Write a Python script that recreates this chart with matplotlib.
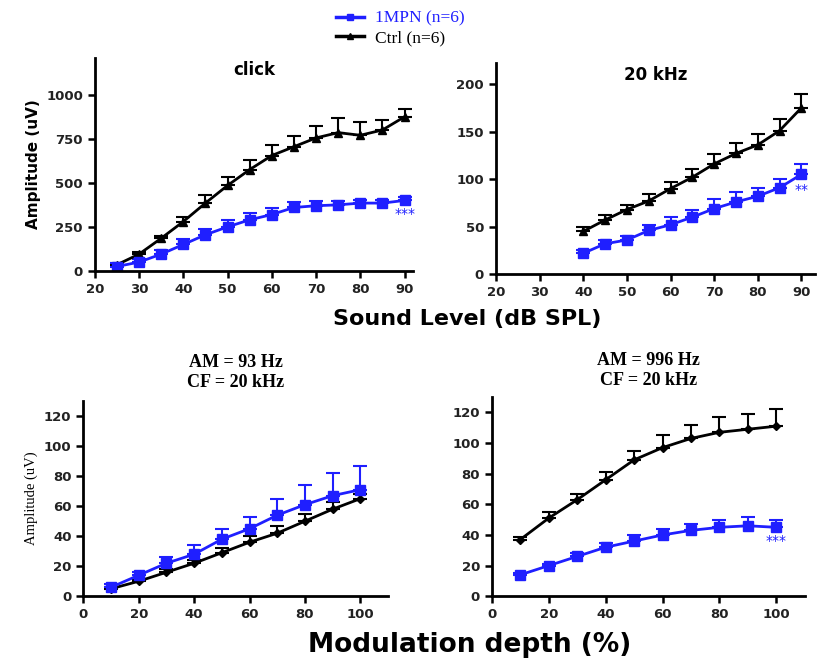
import matplotlib
matplotlib.use("Agg")
import matplotlib.pyplot as plt
from matplotlib.lines import Line2D

# click
click_x = [25, 30, 35, 40, 45, 50, 55, 60, 65, 70, 75, 80, 85, 90]
click_ctrl = [35, 95, 185, 280, 385, 485, 575, 655, 705, 755, 785, 770, 800, 875]
click_ctrl_err = [10, 15, 15, 25, 45, 50, 55, 60, 60, 70, 85, 75, 55, 45]
click_mpn = [25, 50, 95, 150, 205, 250, 290, 320, 360, 370, 375, 385, 385, 400]
click_mpn_err = [20, 20, 25, 30, 35, 40, 40, 35, 30, 25, 20, 20, 20, 20]

# 20 kHz
khz_x = [40, 45, 50, 55, 60, 65, 70, 75, 80, 85, 90]
khz_ctrl = [45, 57, 68, 77, 90, 102, 116, 127, 136, 151, 175]
khz_ctrl_err = [5, 5, 5, 7, 7, 9, 10, 11, 11, 12, 15]
khz_mpn = [22, 32, 36, 46, 52, 60, 69, 76, 82, 91, 105]
khz_mpn_err = [3, 4, 4, 6, 8, 8, 10, 10, 9, 9, 11]

# modulation depth
depth_x = [10, 20, 30, 40, 50, 60, 70, 80, 90, 100]
am93_mpn = [6, 14, 22, 28, 38, 45, 54, 61, 67, 71]
am93_mpn_err = [2, 2, 4, 6, 7, 8, 11, 13, 15, 16]
am93_ctrl = [5, 10, 16, 22, 29, 36, 42, 50, 58, 65]
am93_ctrl_err = [1, 1, 2, 2, 3, 4, 5, 5, 5, 3]
am996_ctrl = [37, 51, 63, 76, 89, 97, 103, 107, 109, 111]
am996_ctrl_err = [2, 4, 4, 5, 6, 8, 9, 10, 10, 11]
am996_mpn = [14, 20, 26, 32, 36, 40, 43, 45, 46, 45]
am996_mpn_err = [1, 1, 2, 3, 4, 4, 4, 5, 6, 5]

BLUE = "#1f1fff"

fig = plt.figure(figsize=(8.17, 6.64), dpi=100)


def style(ax):
    for s in ["top", "right"]:
        ax.spines[s].set_visible(False)
    for s in ["left", "bottom"]:
        ax.spines[s].set_linewidth(2)
    ax.tick_params(width=1.8, length=5, labelsize=9.5)
    for lab in ax.get_xticklabels() + ax.get_yticklabels():
        lab.set_fontweight("bold")
        lab.set_color("#222222")


def draw(ax, x, y, err, color, marker, ms):
    ax.errorbar(x, y, yerr=[[0] * len(err), err], color=color, marker=marker,
                ms=ms, lw=2, elinewidth=1.5, capsize=5, capthick=1.5)


# top left
ax1 = fig.add_axes([0.116, 0.592, 0.390, 0.321])
draw(ax1, click_x, click_ctrl, click_ctrl_err, "black", "^", 5.5)
draw(ax1, click_x, click_mpn, click_mpn_err, BLUE, "s", 6.5)
ax1.set_xlim(20, 92)
ax1.set_ylim(0, 1210)
ax1.set_xticks(range(20, 91, 10))
ax1.set_yticks([0, 250, 500, 750, 1000])
ax1.set_title("click", fontweight="bold", fontsize=12, y=0.88)
ax1.set_ylabel("Amplitude (uV)", fontweight="bold", fontsize=11)
ax1.text(90, 325, "***", color=BLUE, ha="center", va="center", fontsize=10)
style(ax1)

# top right
ax2 = fig.add_axes([0.607, 0.587, 0.390, 0.318])
draw(ax2, khz_x, khz_ctrl, khz_ctrl_err, "black", "^", 5.5)
draw(ax2, khz_x, khz_mpn, khz_mpn_err, BLUE, "s", 6.5)
ax2.set_xlim(20, 93)
ax2.set_ylim(0, 222)
ax2.set_xticks(range(20, 91, 10))
ax2.set_yticks([0, 50, 100, 150, 200])
ax2.set_title("20 kHz", fontweight="bold", fontsize=12, y=0.88)
ax2.text(90, 89, "**", color=BLUE, ha="center", va="center", fontsize=10)
style(ax2)

# bottom left
ax3 = fig.add_axes([0.102, 0.102, 0.373, 0.294])
draw(ax3, depth_x, am93_ctrl, am93_ctrl_err, "black", "D", 4.5)
draw(ax3, depth_x, am93_mpn, am93_mpn_err, BLUE, "s", 6.5)
ax3.set_xlim(0, 110)
ax3.set_ylim(0, 130)
ax3.set_xticks(range(0, 101, 20))
ax3.set_yticks(range(0, 121, 20))
ax3.set_ylabel("Amplitude (uV)", family="Liberation Serif", fontsize=10.5)
ax3.text(0.5, 1.05, "AM = 93 Hz\nCF = 20 kHz", transform=ax3.transAxes,
         ha="center", va="bottom", family="Liberation Serif", fontweight="bold",
         fontsize=13, linespacing=1.25)
style(ax3)

# bottom right
ax4 = fig.add_axes([0.602, 0.102, 0.383, 0.300])
draw(ax4, depth_x, am996_ctrl, am996_ctrl_err, "black", "D", 4.5)
draw(ax4, depth_x, am996_mpn, am996_mpn_err, BLUE, "s", 6.5)
ax4.set_xlim(0, 110)
ax4.set_ylim(0, 130)
ax4.set_xticks(range(0, 101, 20))
ax4.set_yticks(range(0, 121, 20))
ax4.text(100, 36, "***", color=BLUE, ha="center", va="center", fontsize=10)
ax4.text(0.5, 1.04, "AM = 996 Hz\nCF = 20 kHz", transform=ax4.transAxes,
         ha="center", va="bottom", family="Liberation Serif", fontweight="bold",
         fontsize=13, linespacing=1.25)
style(ax4)

fig.text(0.572, 0.52, "Sound Level (dB SPL)", ha="center", va="center",
         fontweight="bold", fontsize=16)
fig.text(0.575, 0.028, "Modulation depth (%)", ha="center", va="center",
         fontweight="bold", fontsize=19)

handles = [Line2D([], [], color=BLUE, marker="s", ms=5, lw=2.5),
           Line2D([], [], color="black", marker="^", ms=5, lw=2.5)]
fig.legend(handles, ["1MPN (n=6)", "Ctrl (n=6)"], loc="center",
           bbox_to_anchor=(0.49, 0.957), frameon=False,
           prop={"family": "Liberation Serif", "size": 12.5},
           labelcolor=[BLUE, "black"], handlelength=1.6, labelspacing=0.2,
           handletextpad=0.6)

fig.savefig("out.png", dpi=100)
